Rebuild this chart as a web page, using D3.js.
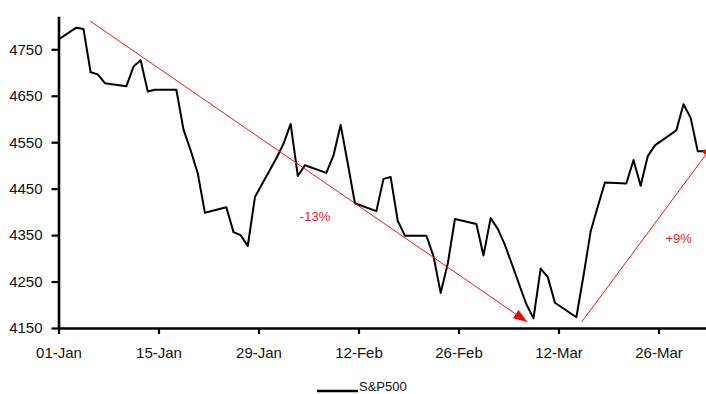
<!DOCTYPE html>
<html>
<head>
<meta charset="utf-8">
<script src="https://cdn.jsdelivr.net/npm/d3@7"></script>
<style>
  html, body { margin: 0; padding: 0; background: #fff; }
  svg { display: block; font-family: "Liberation Sans", Arial, sans-serif; }
</style>
</head>
<body>
<svg id="chart" width="706" height="394"></svg>
<script>
// S&P 500 daily closes, Q1 2022 (holidays carry the previous close)
const dates = [
  "2021-12-31","2022-01-03","2022-01-04","2022-01-05","2022-01-06","2022-01-07",
  "2022-01-10","2022-01-11","2022-01-12","2022-01-13","2022-01-14","2022-01-17",
  "2022-01-18","2022-01-19","2022-01-20","2022-01-21","2022-01-24","2022-01-25",
  "2022-01-26","2022-01-27","2022-01-28","2022-01-31","2022-02-01","2022-02-02",
  "2022-02-03","2022-02-04","2022-02-07","2022-02-08","2022-02-09","2022-02-10",
  "2022-02-11","2022-02-14","2022-02-15","2022-02-16","2022-02-17","2022-02-18",
  "2022-02-21","2022-02-22","2022-02-23","2022-02-24","2022-02-25","2022-02-28",
  "2022-03-01","2022-03-02","2022-03-03","2022-03-04","2022-03-07","2022-03-08",
  "2022-03-09","2022-03-10","2022-03-11","2022-03-14","2022-03-15","2022-03-16",
  "2022-03-17","2022-03-18","2022-03-21","2022-03-22","2022-03-23","2022-03-24",
  "2022-03-25","2022-03-28","2022-03-29","2022-03-30","2022-03-31","2022-04-01"
];
const sp500 = [
  4766.18, 4796.56, 4793.54, 4700.58, 4696.05, 4677.03,
  4670.29, 4713.07, 4726.35, 4659.03, 4662.85, 4662.85,
  4577.11, 4532.76, 4482.73, 4397.94, 4410.13, 4356.45,
  4349.93, 4326.51, 4431.85, 4515.55, 4546.54, 4589.38,
  4477.44, 4500.53, 4483.87, 4521.54, 4587.18, 4504.08,
  4418.64, 4401.67, 4471.07, 4475.01, 4380.26, 4348.87,
  4348.87, 4304.76, 4225.50, 4288.70, 4384.65, 4373.94,
  4306.26, 4386.54, 4363.49, 4328.87, 4201.09, 4170.70,
  4277.88, 4259.52, 4204.31, 4173.11, 4262.45, 4357.86,
  4411.67, 4463.12, 4461.18, 4511.61, 4456.24, 4520.16,
  4543.06, 4575.52, 4631.60, 4602.45, 4530.41, 4530.41
];

const yTicks = [4150, 4250, 4350, 4450, 4550, 4650, 4750];
const xTickDates = ["2022-01-01","2022-01-15","2022-01-29","2022-02-12","2022-02-26","2022-03-12","2022-03-26"];

// Trend arrows: [date, level] start and end points
const arrowFrom = [["2022-01-05T10:00", 4811], ["2022-03-15T06:00", 4163]];
const arrowTo   = [["2022-03-07T15:00", 4163], ["2022-04-02T18:30", 4547]];
const moveLabels = ["-13%", "+9%"];
const labelAt = [["2022-02-05T22:00", 4391], ["2022-03-28T20:00", 4343]];

const parseDay = d3.utcParse("%Y-%m-%d");
const parseHour = d3.utcParse("%Y-%m-%dT%H:%M");
const HALF_DAY = 12 * 3600 * 1000;

// each close sits in the middle of its day slot
const series = dates.map((d, i) => ({ date: new Date(+parseDay(d) + HALF_DAY), value: sp500[i] }));

const svg = d3.select("#chart");
const W = 706;
const plotLeft = 58.5, plotBottom = 328, plotTop = 16.8;
const pxPerDay = 100 / 14;
const x0 = parseDay("2022-01-01");
const x1 = parseDay("2022-04-06");
const nDays = (x1 - x0) / 86400000;

const x = d3.scaleUtc().domain([x0, x1]).range([plotLeft, plotLeft + nDays * pxPerDay]);
const y = d3.scaleLinear().domain([4150, 4820]).range([plotBottom, plotTop]);

const defs = svg.append("defs");
defs.append("clipPath").attr("id", "plot")
  .append("rect").attr("x", plotLeft).attr("y", 0).attr("width", W - plotLeft).attr("height", plotBottom);

defs.append("marker")
  .attr("id", "head").attr("markerUnits", "userSpaceOnUse")
  .attr("viewBox", "0 0 14 10").attr("refX", 14).attr("refY", 5)
  .attr("markerWidth", 14).attr("markerHeight", 10).attr("orient", "auto")
  .append("path").attr("d", "M0,0 L14,5 L0,10 Z").attr("fill", "#ff0000");

// series line
const line = d3.line().x(d => x(d.date)).y(d => y(d.value));
svg.append("path")
  .datum(series)
  .attr("clip-path", "url(#plot)")
  .attr("fill", "none")
  .attr("stroke", "#000")
  .attr("stroke-width", 2)
  .attr("stroke-linejoin", "round")
  .attr("d", line);

// trend arrows
arrowFrom.forEach((f, i) => {
  const t = arrowTo[i];
  svg.append("line")
    .attr("x1", x(parseHour(f[0]))).attr("y1", y(f[1]))
    .attr("x2", x(parseHour(t[0]))).attr("y2", y(t[1]))
    .attr("stroke", "#f01818")
    .attr("stroke-width", 1)
    .attr("marker-end", "url(#head)");
});

moveLabels.forEach((txt, i) => {
  svg.append("text")
    .attr("x", x(parseHour(labelAt[i][0])))
    .attr("y", y(labelAt[i][1]))
    .attr("dy", "0.35em")
    .attr("text-anchor", "middle")
    .attr("font-size", 13)
    .attr("fill", "#e8202a")
    .text(txt);
});

// axes
const yAxis = d3.axisLeft(y).tickValues(yTicks).tickSize(7).tickPadding(9).tickFormat(d3.format("d"));
const gy = svg.append("g").attr("transform", `translate(${plotLeft},0)`).call(yAxis);

const xAxis = d3.axisBottom(x)
  .tickValues(xTickDates.map(parseDay))
  .tickSize(6).tickPadding(13)
  .tickFormat(d3.utcFormat("%d-%b"));
const gx = svg.append("g").attr("transform", `translate(0,${plotBottom})`).call(xAxis);

[gx, gy].forEach(g => {
  g.select(".domain").attr("stroke", "#000").attr("stroke-width", 2.6);
  g.selectAll(".tick line").attr("stroke", "#000").attr("stroke-width", 2.2);
  g.selectAll(".tick text").attr("fill", "#111").attr("font-size", 15)
    .attr("font-family", "'Liberation Sans', Arial, sans-serif");
});
gx.select(".domain").attr("d", `M${plotLeft},0.5H${W}`);
gy.select(".domain").attr("d", `M0.5,${plotTop}V${plotBottom}`);

// legend
const lg = svg.append("g");
lg.append("line").attr("x1", 317).attr("x2", 358).attr("y1", 391).attr("y2", 391)
  .attr("stroke", "#000").attr("stroke-width", 2.5);
lg.append("text").attr("x", 359).attr("y", 391).attr("font-size", 13).attr("fill", "#111").text("S&P500");
</script>
</body>
</html>
